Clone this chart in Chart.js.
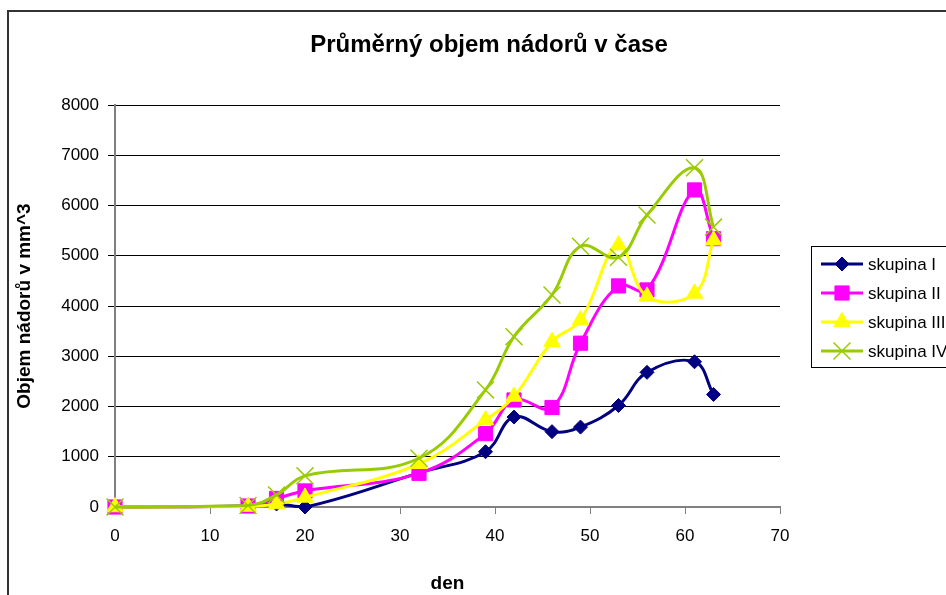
<!DOCTYPE html>
<html>
<head>
<meta charset="utf-8">
<script src="https://cdn.jsdelivr.net/npm/chart.js@4.4.1/dist/chart.umd.min.js"></script>
<style>
  html, body { margin: 0; padding: 0; background: #fff; }
  #wrap { width: 946px; height: 595px; }
</style>
</head>
<body>
<div id="wrap"><canvas id="graf" width="946" height="595"></canvas></div>
<script>
// ==============================
// DATA
// ==============================
const dny = [0, 14, 17, 20, 32, 39, 42, 46, 49, 53, 56, 61, 63];

const skupina1 = [0, 20, 60, 0, 680, 1100, 1790, 1500, 1590, 2020, 2680, 2890, 2240];
const skupina2 = [0, 20, 170, 320, 670, 1460, 2130, 1980, 3260, 4400, 4320, 6310, 5340];
const skupina3 = [0, 10, 60, 190, 860, 1730, 2200, 3290, 3720, 5210, 4190, 4250, 5310];
const skupina4 = [0, 30, 240, 620, 970, 2330, 3390, 4220, 5190, 4970, 5810, 6750, 5570];

const nazvy = ['skupina I', 'skupina II', 'skupina III', 'skupina IV'];
const xTicks = [0, 10, 20, 30, 40, 50, 60, 70];
const yTicks = [0, 1000, 2000, 3000, 4000, 5000, 6000, 7000, 8000];

const FONT = "'Liberation Sans', Arial, sans-serif";

function body(hodnoty) {
    return dny.map((d, i) => ({ x: d, y: hodnoty[i] }));
}

function serie(nazev, hodnoty, barva, styl, polomer, poradi) {
    return {
        label: nazev,
        data: body(hodnoty),
        borderColor: barva,
        backgroundColor: barva,
        borderWidth: 3,
        pointStyle: styl,
        pointRadius: polomer,
        pointHoverRadius: polomer,
        pointBackgroundColor: barva,
        pointBorderColor: barva,
        pointBorderWidth: styl === 'crossRot' ? 1.5 : 1,
        tension: 0.4,
        clip: false,
        order: poradi
    };
}

// ==============================
// PLUGIN: RAM, NADPIS, LEGENDA
// ==============================
const ozdobyPlugin = {
    id: 'ozdoby',
    afterDraw(chart) {
        const ctx = chart.ctx;
        ctx.save();

        // vnejsi ram grafu
        ctx.strokeStyle = '#333333';
        ctx.lineWidth = 2;
        ctx.beginPath();
        ctx.moveTo(8, 600);
        ctx.lineTo(8, 11);
        ctx.lineTo(950, 11);
        ctx.stroke();

        // nadpis
        ctx.fillStyle = '#000';
        ctx.font = 'bold 24px ' + FONT;
        ctx.textAlign = 'center';
        ctx.textBaseline = 'alphabetic';
        ctx.fillText('Průměrný objem nádorů v čase', 489, 52);

        // legenda
        ctx.strokeStyle = '#000';
        ctx.lineWidth = 1;
        ctx.strokeRect(811.5, 246.5, 160, 121);

        ctx.font = '17px ' + FONT;
        ctx.textAlign = 'left';
        ctx.textBaseline = 'middle';
        chart.data.datasets.forEach((ds, i) => {
            const y = 264 + i * 29;
            ctx.strokeStyle = ds.borderColor;
            ctx.lineWidth = 3;
            ctx.beginPath();
            ctx.moveTo(821, y);
            ctx.lineTo(863, y);
            ctx.stroke();
            ctx.fillStyle = ds.borderColor;
            ctx.lineWidth = ds.pointBorderWidth;
            Chart.helpers.drawPoint(ctx, {
                pointStyle: ds.pointStyle,
                radius: ds.pointRadius,
                rotation: 0,
                borderWidth: ds.pointBorderWidth
            }, 842, y);
            ctx.fillStyle = '#000';
            ctx.fillText(ds.label, 868, y + 1);
        });

        ctx.restore();
    }
};

// ==============================
// GRAF
// ==============================
new Chart(document.getElementById('graf'), {
    type: 'line',
    data: {
        datasets: [
            serie(nazvy[0], skupina1, '#000080', 'rectRot', 7, 4),
            serie(nazvy[1], skupina2, '#FF00FF', 'rect', 10, 3),
            serie(nazvy[2], skupina3, '#FFFF00', 'triangle', 9.5, 2),
            serie(nazvy[3], skupina4, '#99CC00', 'crossRot', 12, 1)
        ]
    },
    options: {
        responsive: false,
        animation: false,
        layout: {
            padding: { left: 0, right: 166, top: 105, bottom: 0 }
        },
        plugins: {
            legend: { display: false },
            title: { display: false },
            tooltip: { enabled: false }
        },
        scales: {
            x: {
                type: 'linear',
                min: 0,
                max: 70,
                afterBuildTicks: s => { s.ticks = xTicks.map(v => ({ value: v })); },
                afterFit: s => { s.height = 88; },
                grid: {
                    drawOnChartArea: false,
                    drawTicks: true,
                    tickLength: 7,
                    color: '#808080'
                },
                border: { color: '#808080', width: 2 },
                ticks: {
                    padding: 12,
                    color: '#000',
                    maxRotation: 0,
                    callback: v => String(v),
                    font: { family: FONT, size: 17 }
                },
                title: {
                    display: true,
                    text: 'den',
                    color: '#000',
                    padding: { top: 0, bottom: 0 },
                    font: { family: FONT, size: 19, weight: 'bold' }
                }
            },
            y: {
                min: 0,
                max: 8000,
                afterBuildTicks: s => { s.ticks = yTicks.map(v => ({ value: v })); },
                afterFit: s => { s.width = 115; },
                grid: {
                    drawTicks: true,
                    tickLength: 7,
                    color: '#000',
                    lineWidth: 1
                },
                border: { color: '#808080', width: 2 },
                ticks: {
                    padding: 9,
                    color: '#000',
                    callback: v => String(v),
                    font: { family: FONT, size: 17 }
                },
                title: {
                    display: true,
                    text: 'Objem nádorů v mm^3',
                    color: '#000',
                    padding: { top: 13, bottom: 0 },
                    font: { family: FONT, size: 19, weight: 'bold' }
                }
            }
        }
    },
    plugins: [ozdobyPlugin]
});
</script>
</body>
</html>
